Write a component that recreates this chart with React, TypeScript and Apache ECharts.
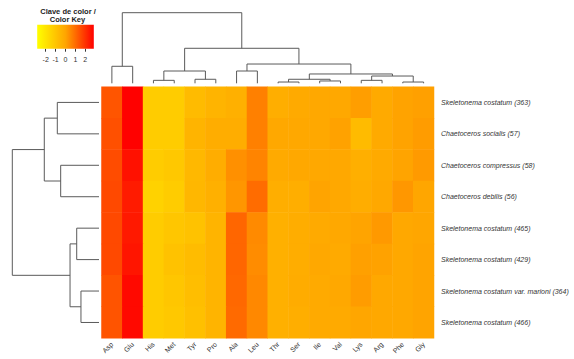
import React, { useEffect, useRef } from "react";
import * as echarts from "echarts";

const aminoAcids = ["Asp", "Glu", "His", "Met", "Tyr", "Pro", "Ala", "Leu", "Thr", "Ser", "Ile", "Val", "Lys", "Arg", "Phe", "Gly"];
const strains = [
  "Skeletonema costatum (363)",
  "Chaetoceros socialis (57)",
  "Chaetoceros compressus (58)",
  "Chaetoceros debilis (56)",
  "Skeletonema costatum (465)",
  "Skeletonema costatum (429)",
  "Skeletonema costatum var. marioni (364)",
  "Skeletonema costatum (466)",
];

// row-scaled z values, one array per strain (column order = aminoAcids)
const sk363 = [1.38, 2.85, -1.24, -1.24, -0.7, -0.48, -0.35, 0.64, -0.29, -0.16, -0.1, -0.1, 0.12, -0.16, 0.04, 0.09];
const chSoc57 = [1.47, 2.85, -1.24, -1.24, -0.48, -0.25, -0.25, 0.64, -0.1, -0.1, -0.1, 0.05, -0.7, -0.16, 0.04, 0.16];
const chCom58 = [1.55, 2.57, -1.24, -1.11, -0.6, -0.25, 0.36, 0.57, -0.16, -0.1, -0.1, -0.1, -0.32, -0.16, 0.02, 0.19];
const chDeb56 = [1.6, 2.4, -1.43, -1.24, -0.57, -0.35, 0.26, 0.98, -0.29, -0.29, 0.02, -0.1, -0.25, -0.1, 0.24, -0.03];
const sk465 = [1.6, 2.43, -1.24, -1.05, -0.92, -0.48, 1.09, 0.47, -0.35, -0.25, -0.16, -0.1, 0.02, 0.21, -0.1, -0.03];
const sk429 = [1.6, 2.5, -1.24, -0.92, -0.73, -0.48, 1.09, 0.43, -0.35, -0.25, -0.1, -0.16, 0.09, 0.05, -0.1, 0.02];
const sk364 = [1.4, 2.71, -1.24, -1.05, -0.79, -0.48, 1.05, 0.5, -0.35, -0.22, -0.16, -0.1, 0.16, -0.1, -0.1, 0.02];
const sk466 = [1.4, 2.71, -1.24, -1.11, -0.86, -0.48, 1.02, 0.5, -0.35, -0.29, -0.16, -0.16, -0.03, -0.1, -0.1, 0.02];
const zRows = [sk363, chSoc57, chCom58, chDeb56, sk465, sk429, sk364, sk466];

// hclust-style merges: negative = leaf (-1 is first leaf), positive = earlier merge (1-based); third = height
const colMerges: [number, number, number][] = [
  [-1, -2, 2.41],
  [-3, -4, 0.42],
  [-5, -6, 0.57],
  [2, 3, 1.74],
  [-7, -8, 1.74],
  [-9, -10, 0.18],
  [-11, -12, 0.33],
  [6, 7, 0.57],
  [-13, -14, 0.42],
  [-15, -16, 0.18],
  [9, 10, 1.03],
  [8, 11, 1.32],
  [5, 12, 2.73],
  [4, 13, 4.96],
  [1, 14, 10],
];
const rowMerges: [number, number, number][] = [
  [-1, -2, 4.81],
  [-3, -4, 4.42],
  [1, 2, 6.31],
  [-5, -6, 2.57],
  [-7, -8, 2.08],
  [4, 5, 3.34],
  [3, 6, 10],
];

const keyMin = -2.86;
const keyMax = 2.86;
const keyTicks = [-2, -1, 0, 1, 2];
const keyHistTicks = [0.18, 0.33, 0.49, 0.64, 0.8, 0.95];
const palette = ["#FFFF00", "#FFA500", "#FF0000"];

function buildSegments(merges: [number, number, number][]) {
  const pos: number[] = [];
  const hts: number[] = [];
  const segs: number[][] = [];
  const ref = (k: number): [number, number] => (k < 0 ? [-k - 1 + 0.5, 0] : [pos[k - 1], hts[k - 1]]);
  merges.forEach(([a, b, h]) => {
    const [xa, ha] = ref(a);
    const [xb, hb] = ref(b);
    pos.push((xa + xb) / 2);
    hts.push(h);
    segs.push([xa, ha, xb, hb, h]);
  });
  return segs;
}

const FONT = "'Liberation Sans', Arial, sans-serif";

export default function App() {
  const ref = useRef<HTMLDivElement>(null);
  useEffect(() => {
    if (!ref.current) return;
    const chart = echarts.init(ref.current, null, { renderer: "svg" });
    const heatData: number[][] = [];
    zRows.forEach((row, r) => row.forEach((v, c) => heatData.push([c, r, v])));
    const colSegs = buildSegments(colMerges);
    const rowSegs = buildSegments(rowMerges);
    const lineStyle = { stroke: "#5a5a5a", lineWidth: 1, fill: null as any };

    chart.setOption({
      animation: false,
      backgroundColor: "#ffffff",
      textStyle: { fontFamily: FONT },
      grid: [
        { left: 101.5, top: 86.7, width: 332.5, height: 251.5, show: false },
        { left: 101.5, top: 12.7, width: 332.5, height: 70.6, show: false },
        { left: 12.3, top: 86.7, width: 86.7, height: 251.5, show: false },
        { left: 37.2, top: 24.7, width: 56.6, height: 24, show: false },
      ],
      xAxis: [
        {
          gridIndex: 0,
          type: "category",
          data: aminoAcids,
          axisLine: { show: false },
          axisTick: { show: false },
          splitLine: { show: false },
          axisLabel: { rotate: 45, fontSize: 7, color: "#333", margin: 5, fontFamily: FONT, interval: 0 },
        },
        { gridIndex: 1, type: "value", min: 0, max: 16, show: false },
        { gridIndex: 2, type: "value", min: 0, max: 10, inverse: true, show: false },
        {
          gridIndex: 3,
          type: "value",
          min: keyMin,
          max: keyMax,
          axisLine: { show: false },
          splitLine: { show: false },
          offset: 1.5,
          axisTick: { show: true, length: 3, customValues: keyTicks, lineStyle: { color: "#333" } },
          axisLabel: { fontSize: 7, color: "#333", margin: 6, customValues: keyTicks, fontFamily: FONT },
        },
      ],
      yAxis: [
        {
          gridIndex: 0,
          type: "category",
          data: strains,
          inverse: true,
          position: "right",
          axisLine: { show: false },
          axisTick: { show: false },
          splitLine: { show: false },
          axisLabel: { fontSize: 7, color: "#333", margin: 7, fontStyle: "italic", fontFamily: FONT },
        },
        { gridIndex: 1, type: "value", min: 0, max: 10, show: false },
        { gridIndex: 2, type: "value", min: 0, max: 8, inverse: true, show: false },
        {
          gridIndex: 3,
          type: "value",
          min: 0,
          max: 1,
          axisLine: { show: false },
          splitLine: { show: false },
          axisLabel: { show: false },
          offset: 0.5,
          axisTick: { show: true, length: 2.5, customValues: keyHistTicks, lineStyle: { color: "#333" } },
        },
      ],
      visualMap: {
        show: false,
        type: "continuous",
        min: keyMin,
        max: keyMax,
        seriesIndex: 0,
        inRange: { color: palette },
      },
      graphic: [
        {
          type: "text",
          x: 68,
          y: 11.5,
          style: { text: "Clave de color /", fontSize: 7.5, fontWeight: "bold", fill: "#222", align: "center", verticalAlign: "middle", fontFamily: FONT },
        },
        {
          type: "text",
          x: 67.5,
          y: 19,
          style: { text: "Color Key", fontSize: 7.5, fontWeight: "bold", fill: "#222", align: "center", verticalAlign: "middle", fontFamily: FONT },
        },
      ],
      series: [
        {
          type: "heatmap",
          xAxisIndex: 0,
          yAxisIndex: 0,
          data: heatData,
          itemStyle: { borderWidth: 0 },
          emphasis: { disabled: true },
        },
        {
          type: "custom",
          xAxisIndex: 1,
          yAxisIndex: 1,
          clip: false,
          data: colSegs,
          renderItem: (_p: any, api: any) => {
            const xa = api.value(0), ha = api.value(1), xb = api.value(2), hb = api.value(3), h = api.value(4);
            const pts = [api.coord([xa, ha]), api.coord([xa, h]), api.coord([xb, h]), api.coord([xb, hb])];
            return { type: "polyline", shape: { points: pts }, style: lineStyle };
          },
        },
        {
          type: "custom",
          xAxisIndex: 2,
          yAxisIndex: 2,
          clip: false,
          data: rowSegs,
          renderItem: (_p: any, api: any) => {
            const ya = api.value(0), ha = api.value(1), yb = api.value(2), hb = api.value(3), h = api.value(4);
            const pts = [api.coord([ha, ya]), api.coord([h, ya]), api.coord([h, yb]), api.coord([hb, yb])];
            return { type: "polyline", shape: { points: pts }, style: lineStyle };
          },
          encode: { x: 1, y: 0 },
        },
        {
          type: "custom",
          xAxisIndex: 3,
          yAxisIndex: 3,
          clip: false,
          data: [[0, 0]],
          renderItem: (_p: any, api: any) => {
            const p0 = api.coord([keyMin, 1]);
            const p1 = api.coord([keyMax, 0]);
            return {
              type: "rect",
              shape: { x: p0[0], y: p0[1], width: p1[0] - p0[0], height: p1[1] - p0[1] },
              style: {
                fill: new echarts.graphic.LinearGradient(0, 0, 1, 0, [
                  { offset: 0, color: palette[0] },
                  { offset: 0.5, color: palette[1] },
                  { offset: 1, color: palette[2] },
                ]),
              },
            };
          },
        },
      ],
    });
    return () => chart.dispose();
  }, []);
  return <div ref={ref} style={{ position: "fixed", left: 0, top: 0, width: 574, height: 359 }} />;
}
